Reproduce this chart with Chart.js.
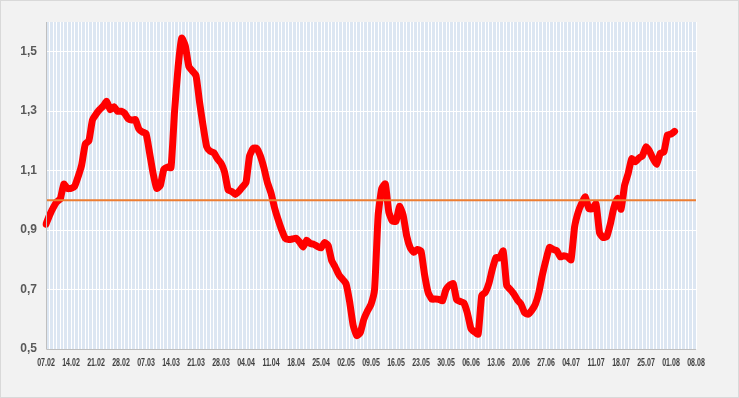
<!DOCTYPE html>
<html>
<head>
<meta charset="utf-8">
<script src="https://cdn.jsdelivr.net/npm/chart.js@4"></script>
<style>
	html, body { margin: 0; padding: 0; background: #f2f2f2; }
	#wrap { position: relative; width: 737px; height: 396px; border: 1px solid #d9d9d9; }
</style>
</head>
<body>
<div id="wrap"><canvas id="rchart" width="737" height="396"></canvas></div>
<script>
// daily values from 07.02 onward
const values = [
	0.92, 0.95, 0.975, 0.995, 1.005, 1.055, 1.04, 1.04, 1.047, 1.08,
	1.12, 1.19, 1.20, 1.27, 1.29, 1.305, 1.317, 1.333, 1.305, 1.315,
	1.30, 1.30, 1.293, 1.275, 1.27, 1.272, 1.24, 1.23, 1.225, 1.16,
	1.09, 1.04, 1.05, 1.105, 1.112, 1.11, 1.30, 1.45, 1.546, 1.52,
	1.45, 1.435, 1.42, 1.33, 1.25, 1.18, 1.165, 1.16, 1.14, 1.125,
	1.095, 1.035, 1.03, 1.02, 1.03, 1.045, 1.06, 1.15, 1.175, 1.175,
	1.15, 1.11, 1.06, 1.025, 0.975, 0.935, 0.90, 0.872, 0.868, 0.87,
	0.873, 0.86, 0.843, 0.866, 0.855, 0.852, 0.845, 0.84, 0.858, 0.848,
	0.797, 0.775, 0.75, 0.735, 0.72, 0.66, 0.58, 0.545, 0.555, 0.60,
	0.628, 0.65, 0.70, 0.95, 1.04, 1.056, 0.96, 0.93, 0.93, 0.98,
	0.95, 0.88, 0.84, 0.825, 0.835, 0.83, 0.75, 0.69, 0.668, 0.668,
	0.667, 0.662, 0.70, 0.715, 0.72, 0.665, 0.66, 0.655, 0.62, 0.568,
	0.557, 0.55, 0.68, 0.69, 0.72, 0.77, 0.808, 0.806, 0.83, 0.713,
	0.70, 0.685, 0.665, 0.651, 0.622, 0.617, 0.63, 0.65, 0.69, 0.75,
	0.80, 0.842, 0.835, 0.831, 0.81, 0.814, 0.81, 0.80, 0.91, 0.96,
	0.99, 1.012, 0.972, 0.972, 0.989, 0.89, 0.875, 0.878, 0.92, 0.975,
	1.007, 0.97, 1.05, 1.09, 1.14, 1.13, 1.142, 1.15, 1.18, 1.165,
	1.14, 1.122, 1.158, 1.163, 1.22, 1.223, 1.232,
];
const tickLabels = [
	'07.02', '14.02', '21.02', '28.02', '07.03', '14.03', '21.03', '28.03', '04.04',
	'11.04', '18.04', '25.04', '02.05', '09.05', '16.05', '23.05', '30.05', '06.06',
	'13.06', '20.06', '27.06', '04.07', '11.07', '18.07', '25.07', '01.08', '08.08',
];
const yTicks = [0.5, 0.7, 0.9, 1.1, 1.3, 1.5];
const refLevel = 1.0;

// one category per day between the first and last tick label
const days = [];
const start = new Date(2021, 1, 7);
for (let i = 0; i <= (tickLabels.length - 1) * 7; i++) {
	const d = new Date(start.getFullYear(), start.getMonth(), start.getDate() + i);
	days.push(String(d.getDate()).padStart(2, '0') + '.' + String(d.getMonth() + 1).padStart(2, '0'));
}

const plotBg = {
	id: 'plotBg',
	beforeDraw(chart) {
		const { ctx, chartArea: a } = chart;
		ctx.save();
		ctx.fillStyle = '#dce6f2';
		ctx.fillRect(a.left, a.top, a.right - a.left, a.bottom - a.top);
		ctx.restore();
	},
	afterDatasetsDraw(chart) {
		const { ctx, chartArea: a, scales } = chart;
		const y = scales.y.getPixelForValue(refLevel);
		ctx.save();
		ctx.strokeStyle = '#ed7d31';
		ctx.lineWidth = 2;
		ctx.beginPath();
		ctx.moveTo(a.left, y);
		ctx.lineTo(a.right, y);
		ctx.stroke();
		// axis lines
		ctx.strokeStyle = '#bfbfbf';
		ctx.lineWidth = 1;
		ctx.beginPath();
		ctx.moveTo(a.left + 0.5, a.top);
		ctx.lineTo(a.left + 0.5, a.bottom + 0.5);
		ctx.lineTo(a.right, a.bottom + 0.5);
		ctx.stroke();
		// narrow date labels, like the condensed font of the original
		ctx.fillStyle = '#404040';
		ctx.font = "bold 11px 'Liberation Sans', Arial";
		ctx.textAlign = 'center';
		ctx.textBaseline = 'middle';
		days.forEach((lbl, i) => {
			if (i % 7 !== 0) return;
			const x = scales.x.getPixelForTick(i);
			ctx.save();
			ctx.translate(x, a.bottom + 14);
			ctx.scale(0.64, 1);
			ctx.fillText(lbl, 0, 0);
			ctx.restore();
		});
		ctx.restore();
	},
};

const ctx = document.getElementById('rchart').getContext('2d');
new Chart(ctx, {
	type: 'line',
	data: {
		labels: days,
		datasets: [
			{
				data: values,
				borderColor: '#ff0000',
				backgroundColor: '#ff0000',
				borderWidth: 7,
				pointRadius: 0,
				tension: 0.15,
				borderJoinStyle: 'round',
				borderCapStyle: 'round',
				fill: false,
			},
		],
	},
	options: {
		responsive: false,
		animation: false,
		layout: { padding: { left: 0, right: 42, top: 21, bottom: 0 } },
		plugins: { legend: { display: false }, tooltip: { enabled: false } },
		scales: {
			x: {
				grid: { color: '#ffffff', lineWidth: 1, drawTicks: false },
				border: { display: false },
				afterFit(scale) { scale.height = 48; },
				ticks: {
					autoSkip: false,
					maxRotation: 0,
					minRotation: 0,
					font: { size: 1 },
					callback() { return ''; },
				},
			},
			y: {
				min: 0.5,
				max: 1.6,
				afterBuildTicks(scale) { scale.ticks = yTicks.map((v) => ({ value: v })); },
				afterFit(scale) { scale.width = 45; },
				grid: { color: '#ffffff', lineWidth: 1, drawTicks: false },
				border: { display: false },
				ticks: {
					padding: 9,
					color: '#595959',
					font: { family: "'Liberation Sans', Arial", size: 12, weight: 'bold' },
					callback(v) { return v.toFixed(1).replace('.', ','); },
				},
			},
		},
	},
	plugins: [plotBg],
});
</script>
</body>
</html>
